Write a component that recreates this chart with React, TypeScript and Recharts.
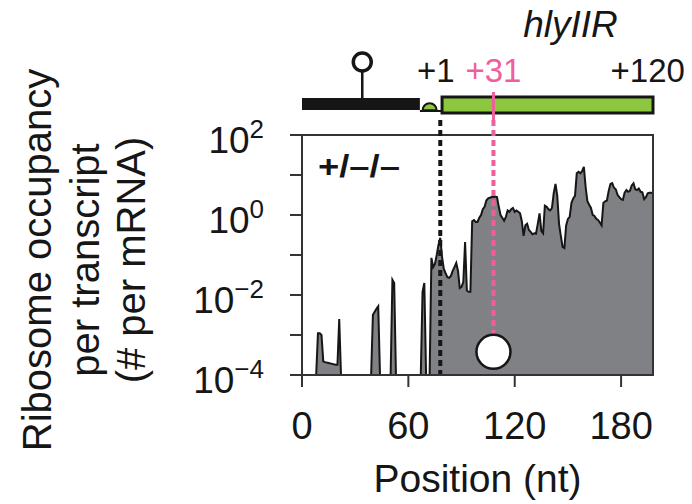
import React from 'react';
import { AreaChart, Area, XAxis, YAxis, ReferenceLine, ReferenceDot, ReferenceArea } from 'recharts';

const FONT = '"Liberation Sans", Arial, Helvetica, sans-serif';
const INK = '#161616';
const GREY = '#808184';
const GREEN = '#8DC63F';
const PINK = '#EF5F9C';

// sparse upstream signal: nucleotide position -> ribosome occupancy
const upstreamPositions = [0, 8, 9, 10, 11, 12, 13, 15, 17, 19, 20, 21, 22, 39, 40, 41, 42, 43, 44, 50, 51, 52, 53, 67, 68, 69, 70, 72];
const upstreamOccupancy = [1e-4, 1e-4, 0.0011, 0.0011, 0.001, 0.00022, 0.00021, 0.0002, 0.00019, 0.00018, 0.00018, 0.0025, 1e-4, 1e-4, 0.0032, 0.0038, 0.0045, 0.0052, 1e-4, 1e-4, 0.024, 0.02, 1e-4, 1e-4, 0.012, 0.02, 1e-4, 1e-4];

// dense signal from position 73 to 198 (one value per nucleotide)
const denseStart = 73;
const denseOccupancy = [
  0.085, 0.05, 0.06, 0.1, 0.18, 0.27, 0.09, 0.045, 0.035, 0.028, // 73-82
  0.027, 0.03, 0.04, 0.05, 0.063, 0.04, 0.015, 0.016, 0.021, 0.21, // 83-92
  0.013, 0.012, 0.012, 0.7, 0.75, 0.67, 0.67, 0.85, 1.0, 1.4, // 93-102
  1.6, 2.3, 2.6, 2.7, 2.8, 2.8, 2.9, 2.8, 1.6, 1.0, // 103-112
  0.85, 0.72, 0.9, 1.3, 1.2, 1.4, 1.5, 1.2, 1.3, 1.2, // 113-122
  1.1, 0.7, 0.3, 0.55, 0.6, 0.42, 0.38, 0.33, 0.35, 0.34, // 123-132
  0.6, 1.1, 0.4, 0.35, 1.7, 1.6, 1.4, 1.3, 1.5, 3.5, // 133-142
  6.0, 3.0, 0.6, 0.3, 0.16, 0.15, 0.55, 0.8, 0.9, 2.0, // 143-152
  2.6, 3.0, 11, 12, 11, 12.5, 16, 5, 2.2, 1.8, // 153-162
  1.5, 1.0, 0.95, 0.8, 0.75, 0.65, 0.55, 2.0, 2.2, 2.3, // 163-172
  4.0, 6.0, 6.3, 4.8, 4.4, 3.2, 2.8, 2.5, 2.4, 3.6, // 173-182
  4.2, 3.8, 4.0, 5.5, 6.2, 4.4, 4.2, 4.6, 3.8, 3.7, // 183-192
  2.5, 2.8, 3.5, 3.6, 3.6, 3.5, // 193-198
];

const xTicks = [0, 60, 120, 180];
const yTicks = [1e-4, 1e-3, 1e-2, 1e-1, 1, 10, 100];
const yLabelledExponents = [-4, -2, 0, 2];
const yTitleLines = ['Ribosome occupancy', 'per transcript', '(# per mRNA)'];
const xTitle = 'Position (nt)';
const genotype = '+/–/–';
const geneName = 'hlyIIR';

// gene model (nucleotide positions on the x axis)
const startCodonPos = 78;
const markedPos = 108;
const cdsStart = 79;
const cdsEnd = 198;
const utrEnd = 66.5;
const terminatorPos = 34;
const hairpinPos = 72;
const markerOccupancy = 3.8e-4;

const data = [
  ...upstreamPositions.map((p, i) => ({ pos: p, occ: upstreamOccupancy[i] })),
  ...denseOccupancy.map((v, i) => ({ pos: denseStart + i, occ: v })),
];

// vertical levels of the gene diagram above the plot (log10 units)
const L = (d: number) => Math.pow(10, d);

const YTick = (props: any) => {
  const { x, y, payload } = props;
  const e = Math.round(Math.log10(payload.value));
  if (!yLabelledExponents.includes(e)) return <g />;
  const sup = e < 0 ? `\u2212${-e}` : `${e}`;
  return (
    <text x={x} y={y + 18} textAnchor="end" fontFamily={FONT} fill={INK}>
      <tspan fontSize={37}>10</tspan>
      <tspan fontSize={26} dy={-15}>{sup}</tspan>
    </text>
  );
};

const YTitle = (props: any) => {
  const vb = props.viewBox || { x: 0, y: 135, width: 302, height: 240 };
  const cy = vb.y + vb.height / 2 + 5;
  const xs = [51, 99, 145];
  return (
    <g>
      {yTitleLines.map((line, i) => (
        <text key={i} transform={`translate(${xs[i]},${cy}) rotate(-90)`} textAnchor="middle" fontSize={40} fontFamily={FONT} fill={INK}>
          {line}
        </text>
      ))}
    </g>
  );
};

const XTitle = (props: any) => {
  const vb = props.viewBox || { x: 302, y: 375, width: 351, height: 129 };
  return (
    <text x={vb.x + vb.width / 2} y={492} textAnchor="middle" fontSize={39} fontFamily={FONT} fill={INK}>
      {xTitle}
    </text>
  );
};

const textShape = (value: string, o: { size: number; anchor?: string; color?: string; italic?: boolean; bold?: boolean; length?: number }) =>
  (p: any) => (
    <text
      x={p.cx}
      y={p.cy}
      textAnchor={o.anchor ?? 'middle'}
      fontSize={o.size}
      fontFamily={FONT}
      fill={o.color ?? INK}
      fontStyle={o.italic ? 'italic' : 'normal'}
      fontWeight={o.bold ? 'bold' : 'normal'}
      textLength={o.length}
      lengthAdjust={o.length ? 'spacingAndGlyphs' : undefined}
    >
      {value}
    </text>
  );

const domeShape = (p: any) => {
  const r = 7;
  return <path d={`M ${p.cx - r},${p.cy} A ${r} ${r} 0 0 1 ${p.cx + r},${p.cy} Z`} fill={GREEN} stroke={INK} strokeWidth={2} />;
};

export default function App() {
  return (
    <div style={{ position: 'absolute', left: 0, top: 0, width: 692, height: 504, background: '#fff' }}>
      <AreaChart width={692} height={504} data={data} margin={{ top: 135, right: 39, bottom: 0, left: 0 }}>
        <Area
          type="linear"
          dataKey="occ"
          stroke={INK}
          strokeWidth={2}
          fill={GREY}
          fillOpacity={1}
          isAnimationActive={false}
          dot={false}
          activeDot={false}
        />

        {/* plot frame */}
        <ReferenceArea x1={0} x2={198} y1={1e-4} y2={100} fill="none" fillOpacity={0} stroke="#333" strokeWidth={2} ifOverflow="visible" />

        {/* gene diagram */}
        <ReferenceArea x1={0} x2={utrEnd} y1={L(2.625)} y2={L(2.925)} fill={INK} fillOpacity={1} stroke="none" ifOverflow="visible" />
        <ReferenceLine segment={[{ x: utrEnd, y: L(2.6) }, { x: cdsStart, y: L(2.6) }]} stroke={INK} strokeWidth={2} ifOverflow="visible" />
        <ReferenceDot x={hairpinPos} y={L(2.62)} r={7} shape={domeShape} ifOverflow="visible" />
        <ReferenceArea x1={cdsStart} x2={cdsEnd} y1={L(2.55)} y2={L(2.95)} fill={GREEN} fillOpacity={1} stroke={INK} strokeWidth={3} ifOverflow="visible" />
        <ReferenceLine segment={[{ x: terminatorPos, y: L(3.6) }, { x: terminatorPos, y: L(2.925) }]} stroke={INK} strokeWidth={2.5} ifOverflow="visible" />
        <ReferenceDot x={terminatorPos} y={L(3.825)} r={9} fill="#fff" fillOpacity={1} stroke={INK} strokeWidth={3.5} ifOverflow="visible" />
        <ReferenceLine segment={[{ x: markedPos, y: L(3.075) }, { x: markedPos, y: L(2.325) }]} stroke={PINK} strokeWidth={3} ifOverflow="visible" />
        <ReferenceDot x={151.5} y={L(4.45)} r={1} shape={textShape(geneName, { size: 37, italic: true })} ifOverflow="visible" />
        <ReferenceDot x={75.5} y={L(3.325)} r={1} shape={textShape('+1', { size: 33 })} ifOverflow="visible" />
        <ReferenceDot x={markedPos} y={L(3.325)} r={1} shape={textShape('+31', { size: 33, color: PINK })} ifOverflow="visible" />
        <ReferenceDot x={216} y={L(3.325)} r={1} shape={textShape('+120', { size: 33, anchor: 'end' })} ifOverflow="visible" />

        {/* guide lines */}
        <ReferenceLine segment={[{ x: startCodonPos, y: L(2.375) }, { x: startCodonPos, y: 1e-4 }]} stroke={INK} strokeWidth={4} strokeDasharray="6 4" ifOverflow="visible" />
        <ReferenceLine segment={[{ x: markedPos, y: L(2.375) }, { x: markedPos, y: markerOccupancy }]} stroke={PINK} strokeWidth={4} strokeDasharray="6 4" ifOverflow="visible" />
        <ReferenceDot x={markedPos} y={markerOccupancy} r={17} fill="#fff" fillOpacity={1} stroke={INK} strokeWidth={2.5} ifOverflow="visible" />
        <ReferenceDot x={9} y={L(0.95)} r={1} shape={textShape(genotype, { size: 31, bold: true, anchor: 'start', length: 82 })} ifOverflow="visible" />

        <XAxis
          dataKey="pos"
          type="number"
          domain={[0, 198]}
          ticks={xTicks}
          interval={0}
          allowDataOverflow
          height={129}
          tickSize={12}
          tickMargin={25}
          stroke="#333"
          strokeWidth={2}
          tick={{ fontSize: 38, fontFamily: FONT, fill: INK }}
          tickLine={{ stroke: '#333', strokeWidth: 2 }}
          label={<XTitle />}
        />
        <YAxis
          type="number"
          scale="log"
          domain={[1e-4, 100]}
          allowDataOverflow
          ticks={yTicks}
          interval={0}
          width={302}
          tickSize={12}
          tickMargin={26}
          stroke="#333"
          strokeWidth={2}
          tick={<YTick />}
          tickLine={{ stroke: '#333', strokeWidth: 2 }}
          label={<YTitle />}
        />
      </AreaChart>
    </div>
  );
}
